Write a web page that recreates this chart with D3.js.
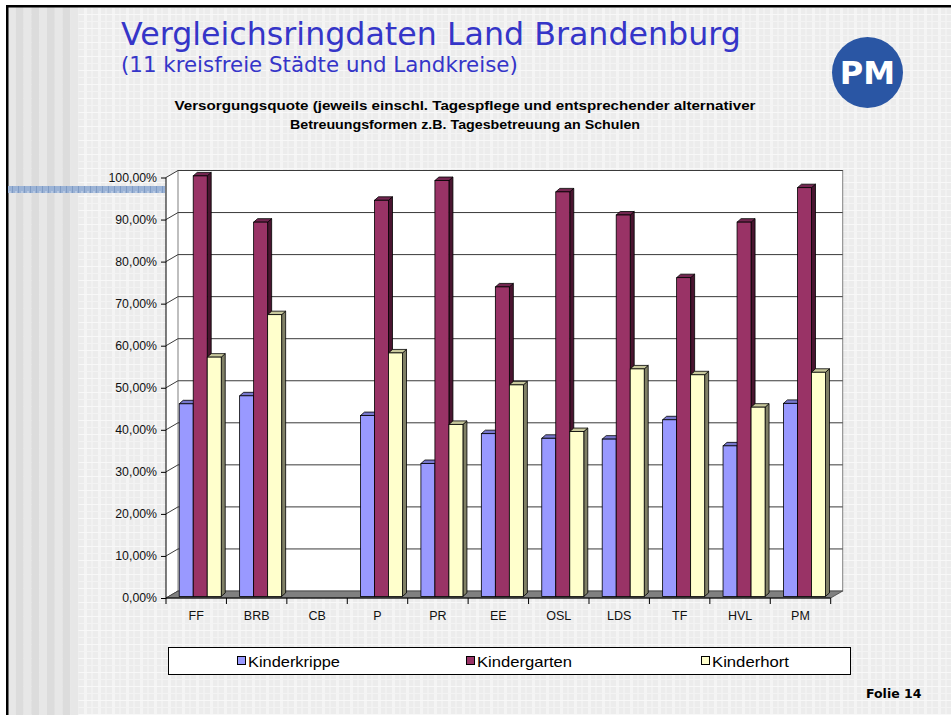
<!DOCTYPE html>
<html><head><meta charset="utf-8">
<script src="https://cdn.jsdelivr.net/npm/d3@7"></script>
<style>html,body{margin:0;padding:0;background:#fff;}svg{display:block;}</style>
</head><body>
<svg id="c" width="951" height="715"></svg>
<script>
const categories = ["FF","BRB","CB","P","PR","EE","OSL","LDS","TF","HVL","PM"];
const seriesNames = ["Kinderkrippe","Kindergarten","Kinderhort"];
const kinderkrippe = [0.458,0.477,null,0.430,0.316,0.387,0.376,0.374,0.420,0.358,0.459];
const kindergarten = [1.000,0.890,null,0.942,0.989,0.736,0.962,0.907,0.758,0.890,0.972];
const kinderhort   = [0.569,0.670,null,0.579,0.409,0.503,0.392,0.541,0.527,0.450,0.533];
const yTicks = [0,0.1,0.2,0.3,0.4,0.5,0.6,0.7,0.8,0.9,1.0];
const titleText = "Vergleichsringdaten Land Brandenburg";
const subtitleText = "(11 kreisfreie Städte und Landkreise)";
const chartTitle = ["Versorgungsquote (jeweils einschl. Tagespflege und entsprechender alternativer","Betreuungsformen z.B. Tagesbetreuung an Schulen"];
const footerText = "Folie 14";

const seriesData = [kinderkrippe, kindergarten, kinderhort];
const fronts = ["#9999ff","#993366","#ffffcc"];
const sides  = ["#4d4d80","#4a1530","#808066"];
const tops   = ["#7777cc","#732650","#c8c89c"];

const svg = d3.select("#c");
const defs = svg.append("defs");
const pat = defs.append("pattern").attr("id","tex").attr("patternUnits","userSpaceOnUse").attr("width",14).attr("height",14);
pat.append("rect").attr("width",14).attr("height",14).attr("fill","#ececec");
pat.append("rect").attr("x",0).attr("width",3).attr("height",14).attr("fill","#f4f4f4");
pat.append("rect").attr("x",7).attr("width",2).attr("height",14).attr("fill","#f1f1f1");
pat.append("rect").attr("y",0).attr("width",14).attr("height",1).attr("fill","#f8f8f8");
pat.append("rect").attr("y",7).attr("width",14).attr("height",1).attr("fill","#f3f3f3");

const bp = defs.append("pattern").attr("id","band").attr("patternUnits","userSpaceOnUse").attr("width",6).attr("height",7);
bp.append("rect").attr("width",6).attr("height",7).attr("fill","#9bb3d6");
bp.append("rect").attr("x",0).attr("width",1).attr("height",7).attr("fill","#7f9bc4");
bp.append("rect").attr("x",3).attr("y",2).attr("width",2).attr("height",2).attr("fill","#b5c7e2");

// background
svg.append("rect").attr("width",951).attr("height",715).attr("fill","url(#tex)");
for (let i=0;i<9;i++){
  svg.append("rect").attr("x",8+i*7.8).attr("y",0).attr("width",7.8).attr("height",715)
    .attr("fill", i%2===0 ? "#e7e7e7" : "#dcdcdc");
}
svg.append("rect").attr("x",0).attr("y",0).attr("width",951).attr("height",5).attr("fill","#fff");
svg.append("rect").attr("x",0).attr("y",0).attr("width",6).attr("height",715).attr("fill","#fff");
svg.append("rect").attr("x",6).attr("y",5).attr("width",945).attr("height",2.5).attr("fill","#000");
svg.append("rect").attr("x",6).attr("y",5).attr("width",2.5).attr("height",710).attr("fill","#000");
svg.append("rect").attr("x",8).attr("y",186).attr("width",157).attr("height",7).attr("fill","url(#band)");

// titles
function fitText(sel, target){
  const w = sel.node().getComputedTextLength();
  const fs = parseFloat(sel.attr("font-size"));
  sel.attr("font-size", fs*target/w);
}
const t1 = svg.append("text").attr("x",121).attr("y",45).attr("font-family","DejaVu Sans").attr("font-size",30).attr("fill","#3535c8").text(titleText);
fitText(t1, 620);
const t2 = svg.append("text").attr("x",121).attr("y",72).attr("font-family","DejaVu Sans").attr("font-size",20).attr("fill","#3535c8").text(subtitleText);
fitText(t2, 397);

// logo
svg.append("circle").attr("cx",867.5).attr("cy",72.5).attr("r",35.5).attr("fill","#2a56a4");
svg.append("text").attr("x",867.5).attr("y",84).attr("text-anchor","middle").attr("font-family","DejaVu Sans").attr("font-weight","bold").attr("font-size",32).attr("fill","#fff").text("PM");

// chart title
const ctLen = [581, 350];
chartTitle.forEach((l,i)=>{
  svg.append("text").attr("x",465).attr("y",109.5+i*19).attr("text-anchor","middle")
    .attr("font-family","Liberation Sans").attr("font-weight","bold").attr("font-size",12.5).attr("fill","#000")
    .attr("textLength",ctLen[i]).attr("lengthAdjust","spacingAndGlyphs").text(l);
});

// scales
const x0 = 166, x1 = 830.7, yBase = 598, yTop = 177.5;
const DX = 12, DY = -7;
const x = d3.scaleBand().domain(categories).range([x0,x1]).paddingInner(0).paddingOuter(0);
const xs = d3.scaleBand().domain(seriesNames).range([0,x.bandwidth()]).paddingInner(0).paddingOuter(0.657);
const y = d3.scaleLinear().domain([0,1]).range([yBase,yTop]);

const g = svg.append("g");
// left wall
g.append("path").attr("d",`M${x0},${y(1)}L${x0+DX},${y(1)+DY}L${x0+DX},${y(0)+DY}L${x0},${y(0)}Z`).attr("fill","#fff");
// back wall
g.append("rect").attr("x",x0+DX).attr("y",y(1)+DY).attr("width",x1-x0).attr("height",y(0)-y(1)).attr("fill","#fff").attr("stroke","#808080").attr("stroke-width",1);
// gridlines
yTicks.forEach(v=>{
  if (v>0) g.append("line").attr("x1",x0+DX).attr("x2",x1+DX).attr("y1",y(v)+DY).attr("y2",y(v)+DY).attr("stroke","#3a3a3a").attr("stroke-width",1);
  g.append("line").attr("x1",x0).attr("x2",x0+DX).attr("y1",y(v)).attr("y2",y(v)+DY).attr("stroke","#3a3a3a").attr("stroke-width",1);
});
// floor
g.append("path").attr("d",`M${x0},${y(0)}L${x0+DX},${y(0)+DY}L${x1+DX},${y(0)+DY}L${x1},${y(0)}Z`).attr("fill","#808080").attr("stroke","#404040").attr("stroke-width",0.8);

// bars
const bdx = 4, bdy = -3.5, offX = 4, offY = -1.6;
categories.forEach((c,ci)=>{
  seriesNames.forEach((s,si)=>{
    const v = seriesData[si][ci];
    if (v==null) return;
    const bx = x(c)+xs(s)+offX, bw = xs.bandwidth();
    const yb = y(0)+offY, yt = y(v)+offY;
    const bar = g.append("g");
    bar.append("path").attr("d",`M${bx+bw},${yb}L${bx+bw+bdx},${yb+bdy}L${bx+bw+bdx},${yt+bdy}L${bx+bw},${yt}Z`)
      .attr("fill",sides[si]).attr("stroke","#000").attr("stroke-width",0.8).attr("stroke-linejoin","round");
    bar.append("path").attr("d",`M${bx},${yt}L${bx+bdx},${yt+bdy}L${bx+bw+bdx},${yt+bdy}L${bx+bw},${yt}Z`)
      .attr("fill",tops[si]).attr("stroke","#000").attr("stroke-width",0.8).attr("stroke-linejoin","round");
    bar.append("rect").attr("x",bx).attr("y",yt).attr("width",bw).attr("height",yb-yt)
      .attr("fill",fronts[si]).attr("stroke","#000").attr("stroke-width",0.8);
  });
});

// y axis
const fmt = d3.formatLocale({decimal:",",thousands:".",grouping:[3],currency:["","€"]}).format(".2%");
const yAxis = d3.axisLeft(y).tickValues(yTicks).tickFormat(fmt).tickSize(5).tickPadding(4);
const ya = svg.append("g").attr("transform",`translate(${x0},0)`).call(yAxis);
ya.select(".domain").attr("stroke","#000").attr("d",`M-0,${y(1)}V${y(0)}`);
ya.selectAll("text").attr("font-family","Liberation Sans").attr("font-size",12.3).attr("fill","#111");
ya.selectAll(".tick line").attr("stroke","#000");

// x axis
const xAxis = d3.axisBottom(x).tickSize(0).tickPadding(13);
const xa = svg.append("g").attr("transform",`translate(0,${yBase})`).call(xAxis);
xa.select(".domain").attr("stroke","#000").attr("d",`M${x0},0H${x1}`);
xa.selectAll("text").attr("font-family","Liberation Sans").attr("font-size",12.5).attr("fill","#111");
const bounds = categories.map(c=>x(c)).concat([x1]);
xa.selectAll("line.bnd").data(bounds).enter().append("line").attr("class","bnd")
  .attr("x1",d=>d).attr("x2",d=>d).attr("y1",0).attr("y2",6).attr("stroke","#000");

// legend
const lg = svg.append("g");
lg.append("rect").attr("x",168.5).attr("y",647.5).attr("width",682).attr("height",27).attr("fill","#fff").attr("stroke","#000").attr("stroke-width",1);
const legX = [237,466,701];
const legLen = [92,95,77];
seriesNames.forEach((s,i)=>{
  lg.append("rect").attr("x",legX[i]+0.5).attr("y",656.5).attr("width",8).attr("height",8).attr("fill",fronts[i]).attr("stroke","#000").attr("stroke-width",1);
  lg.append("text").attr("x",legX[i]+11).attr("y",666.5).attr("font-family","Liberation Sans").attr("font-size",14.5).attr("fill","#000")
    .attr("textLength",legLen[i]).attr("lengthAdjust","spacingAndGlyphs").text(s);
});

// footer
svg.append("text").attr("x",866).attr("y",698).attr("font-family","DejaVu Sans").attr("font-weight","bold").attr("font-size",12.5).attr("fill","#000").text(footerText);
</script>
</body></html>
